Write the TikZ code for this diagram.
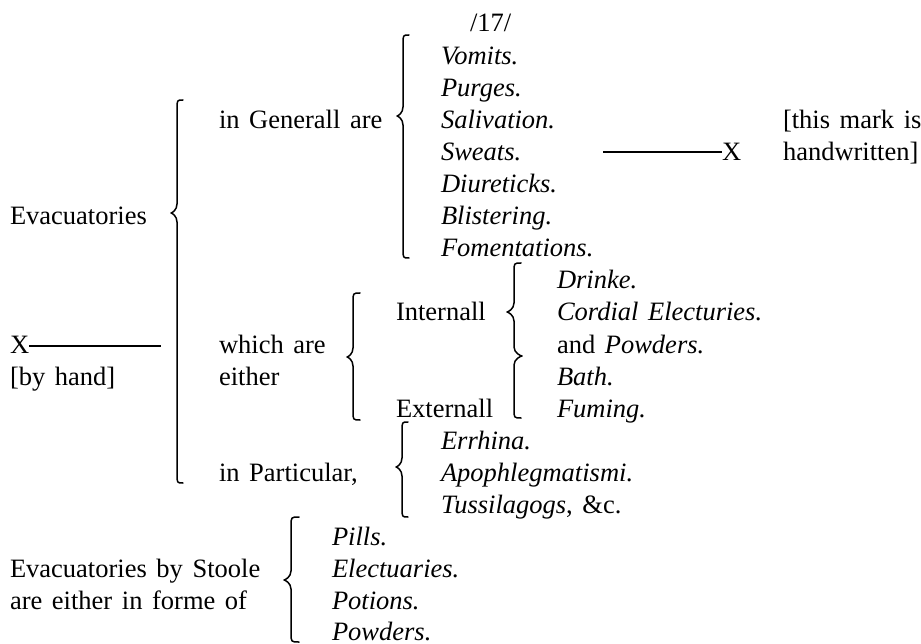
\documentclass[tikz,border=0pt]{standalone}
\usepackage{fontspec}
\setmainfont{Liberation Serif}[WordSpace=1.45]
\tikzset{
  txt/.style={anchor=base west, inner sep=0pt, outer sep=0pt, font=\fontsize{26.5}{32}\selectfont},
  itxt/.style={txt, font=\fontsize{26.5}{32}\selectfont\itshape},
  bracestyle/.style={line width=1.5pt, line cap=round, line join=round},
  xline/.style={line width=1.2pt}
}
% #1 line x, #2 tip x, #3 end x, #4 top y, #5 tip y, #6 bottom y
\newcommand\mybrace[6]{%
  \draw[bracestyle] (#3,#4) .. controls (#1,#4) and (#1,#4) .. (#1,{#4+9})
    -- (#1,{#5-9}) .. controls (#1,{#5-3}) and ({#2+1},#5) .. (#2,#5)
    .. controls ({#2+1},#5) and (#1,{#5+3}) .. (#1,{#5+9})
    -- (#1,{#6-9}) .. controls (#1,#6) and (#1,#6) .. (#3,#6);}
\begin{document}
\begin{tikzpicture}[x=1pt,y=-1pt]
\useasboundingbox (0,0) rectangle (921,644);
% page number
\node[txt] (page) at (470,32) {/17/};
% left column
\node[txt] (evac) at (10,224.6) {Evacuatories};
\node[txt] (xleft) at (10,353) {X};
\coordinate (xleftend) at (161,346);
\draw[xline] (xleft.east |- xleftend) -- (xleftend);
\node[txt] (byhand) at (10,385.1) {[by hand]};
\node[txt] (stoole1) at (10,577.7) {Evacuatories by Stoole};
\node[txt] (stoole2) at (10,609.8) {are either in forme of};
% second column
\node[txt] (general) at (219,128.3) {in Generall are};
\node[txt] (which) at (219,353) {which are};
\node[txt] (either) at (219,385.1) {either};
\node[txt] (partic) at (219,481.4) {in Particular,};
\node[txt] (intern) at (396,320.9) {Internall};
\node[txt] (extern) at (396,417.2) {Externall};
% general list
\node[itxt] (vomits) at (441,64.1) {Vomits.};
\node[itxt] (purges) at (441,96.2) {Purges.};
\node[itxt] (saliv) at (441,128.3) {Salivation.};
\node[itxt] (sweats) at (441,160.4) {Sweats.};
\node[itxt] (diur) at (441,192.5) {Diureticks.};
\node[itxt] (blist) at (441,224.6) {Blistering.};
\node[itxt] (foment) at (441,256.7) {Fomentations.};
% internal / external list
\node[itxt] (drinke) at (557,288.8) {Drinke.};
\node[itxt] (cordial) at (557,320.9) {Cordial Electuries.};
\node[txt] (powd1) at (557,353) {and \textit{Powders.}};
\node[itxt] (bath) at (557,385.1) {Bath.};
\node[itxt] (fuming) at (557,417.2) {Fuming.};
% particular list
\node[itxt] (errh) at (441,449.3) {Errhina.};
\node[itxt] (apoph) at (441,481.4) {Apophlegmatismi.};
\node[txt] (tussil) at (441,513.5) {\textit{Tussilagogs}, \&c.};
% stoole list
\node[itxt] (pills) at (332,545.6) {Pills.};
\node[itxt] (electu) at (332,577.7) {Electuaries.};
\node[itxt] (potions) at (332,609.8) {Potions.};
\node[itxt] (powd2) at (332,640) {Powders.};
% handwritten mark
\node[txt] (xright) at (722,160.4) {X};
\coordinate (xrightstart) at (603,152);
\draw[xline] (xrightstart) -- (xrightstart -| xright.west);
\node[txt] (note1) at (783,128.3) {[this mark is};
\node[txt] (note2) at (783,160.4) {handwritten]};
% braces
\mybrace{177}{171}{183}{100}{213}{483}
\mybrace{403}{397}{409}{35}{116}{258}
\mybrace{353}{347}{360}{293}{357}{420}
\mybrace{402}{396}{408}{422}{467}{517}
\mybrace{291}{284}{299}{517}{580}{642}
% internall / externall combined brace
\draw[bracestyle] (521,263) .. controls (514,263) and (514,263) .. (514,272)
  -- (514,303) .. controls (514,309) and (508,312) .. (507,312)
  .. controls (508,312) and (514,315) .. (514,321)
  -- (514,347) .. controls (514,353) and (521,356) .. (522,356)
  .. controls (521,356) and (514,359) .. (514,365)
  -- (514,409) .. controls (514,418) and (514,418) .. (521,418);
\end{tikzpicture}
\end{document}
